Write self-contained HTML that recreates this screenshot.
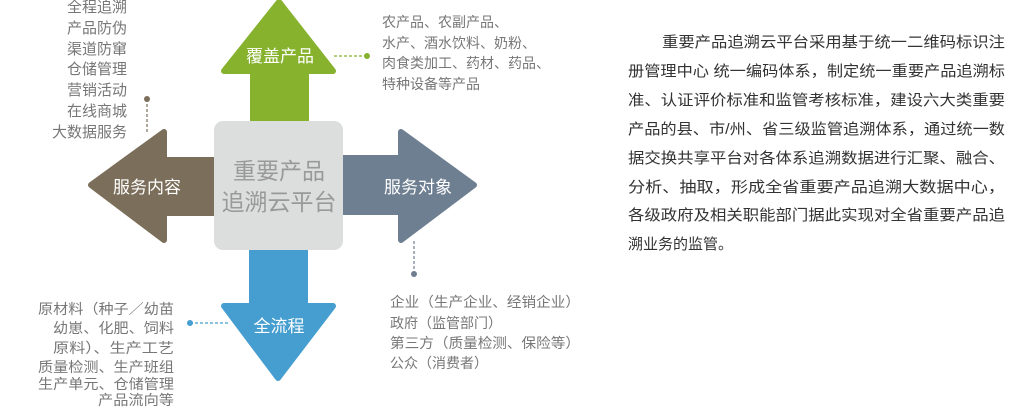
<!DOCTYPE html>
<html><head><meta charset="utf-8"><style>
html,body{margin:0;padding:0;background:#fff;}
svg{display:block;font-family:"Liberation Sans","Noto Sans CJK SC",sans-serif;}
</style></head><body>
<svg width="1016" height="408" viewBox="0 0 1016 408" xmlns="http://www.w3.org/2000/svg">
<g stroke-linejoin="round" stroke-width="6">
<path d="M279 2 L333 71 L306 71 L306 124 L253 124 L253 71 L224 71 Z" fill="#86b22d" stroke="#86b22d"/>
<path d="M91 185 L164 132 L164 160 L217 160 L217 213 L164 213 L164 240 Z" fill="#7b6e5a" stroke="#7b6e5a"/>
<path d="M474 185 L401 132 L401 158 L340 158 L340 212 L401 212 L401 240 Z" fill="#6f7f92" stroke="#6f7f92"/>
<path d="M278 378 L333 306 L305 306 L305 247 L252 247 L252 306 L224 306 Z" fill="#459ecf" stroke="#459ecf"/>
</g>
<rect x="214" y="121" width="129" height="129" rx="9" fill="#dcdddd"/>
<g fill="#999" font-size="23" text-anchor="middle">
<text x="279" y="179">重要产品</text>
<text x="279" y="210">追溯云平台</text>
</g>
<g fill="#fff" font-size="17" text-anchor="middle">
<text x="280" y="62">覆盖产品</text>
<text x="147" y="193">服务内容</text>
<text x="418" y="193">服务对象</text>
<text x="279" y="332">全流程</text>
</g>
<g stroke-width="1.2" stroke-dasharray="3,2" fill="none">
<line x1="147" y1="99" x2="147" y2="134" stroke="#7b6e5a"/>
<line x1="334" y1="56" x2="367" y2="56" stroke="#86b22d"/>
<line x1="414" y1="241" x2="414" y2="274" stroke="#6f7f92"/>
<line x1="190" y1="323" x2="228" y2="323" stroke="#459ecf"/>
</g>
<circle cx="147" cy="99" r="3" fill="#7b6e5a"/>
<circle cx="367" cy="56" r="3" fill="#86b22d"/>
<circle cx="414" cy="274" r="3" fill="#6f7f92"/>
<circle cx="190" cy="323" r="3" fill="#459ecf"/>
<g fill="#777" font-size="15" text-anchor="end">
<text x="127" y="12">全程追溯</text>
<text x="127" y="33">产品防伪</text>
<text x="127" y="54">渠道防窜</text>
<text x="127" y="74">仓储管理</text>
<text x="127" y="95">营销活动</text>
<text x="127" y="116">在线商城</text>
<text x="127" y="137">大数据服务</text>
</g>
<g fill="#777" font-size="14" text-anchor="end">
<text x="174" y="314" textLength="136" lengthAdjust="spacingAndGlyphs">原材料（种子／幼苗</text>
<text x="174" y="333" textLength="121" lengthAdjust="spacingAndGlyphs">幼崽、化肥、饲料</text>
<text x="174" y="353" textLength="121" lengthAdjust="spacingAndGlyphs">原料）、生产工艺</text>
<text x="174" y="372" textLength="136" lengthAdjust="spacingAndGlyphs">质量检测、生产班组</text>
<text x="174" y="389" textLength="136" lengthAdjust="spacingAndGlyphs">生产单元、仓储管理</text>
<text x="174" y="405" textLength="76" lengthAdjust="spacingAndGlyphs">产品流向等</text>
</g>
<g fill="#777" font-size="14">
<text x="382" y="27">农产品、农副产品、</text>
<text x="382" y="48">水产、酒水饮料、奶粉、</text>
<text x="382" y="68">肉食类加工、药材、药品、</text>
<text x="382" y="89">特种设备等产品</text>
<text x="390" y="307" textLength="190" lengthAdjust="spacingAndGlyphs">企业（生产企业、经销企业）</text>
<text x="390" y="328">政府（监管部门）</text>
<text x="390" y="348" textLength="190" lengthAdjust="spacingAndGlyphs">第三方（质量检测、保险等）</text>
<text x="390" y="368">公众（消费者）</text>
</g>
<g fill="#333" font-size="15">
<text x="662" y="47" textLength="343" lengthAdjust="spacingAndGlyphs">重要产品追溯云平台采用基于统一二维码标识注</text>
<text x="628" y="76" textLength="377" lengthAdjust="spacingAndGlyphs">册管理中心 统一编码体系，制定统一重要产品追溯标</text>
<text x="628" y="105" textLength="377" lengthAdjust="spacingAndGlyphs">准、认证评价标准和监管考核标准，建设六大类重要</text>
<text x="628" y="134" textLength="377" lengthAdjust="spacingAndGlyphs">产品的县、市/州、省三级监管追溯体系，通过统一数</text>
<text x="628" y="163" textLength="377" lengthAdjust="spacingAndGlyphs">据交换共享平台对各体系追溯数据进行汇聚、融合、</text>
<text x="628" y="192" textLength="377" lengthAdjust="spacingAndGlyphs">分析、抽取，形成全省重要产品追溯大数据中心，</text>
<text x="628" y="220" textLength="377" lengthAdjust="spacingAndGlyphs">各级政府及相关职能部门据此实现对全省重要产品追</text>
<text x="628" y="249">溯业务的监管。</text>
</g>
</svg>
</body></html>
